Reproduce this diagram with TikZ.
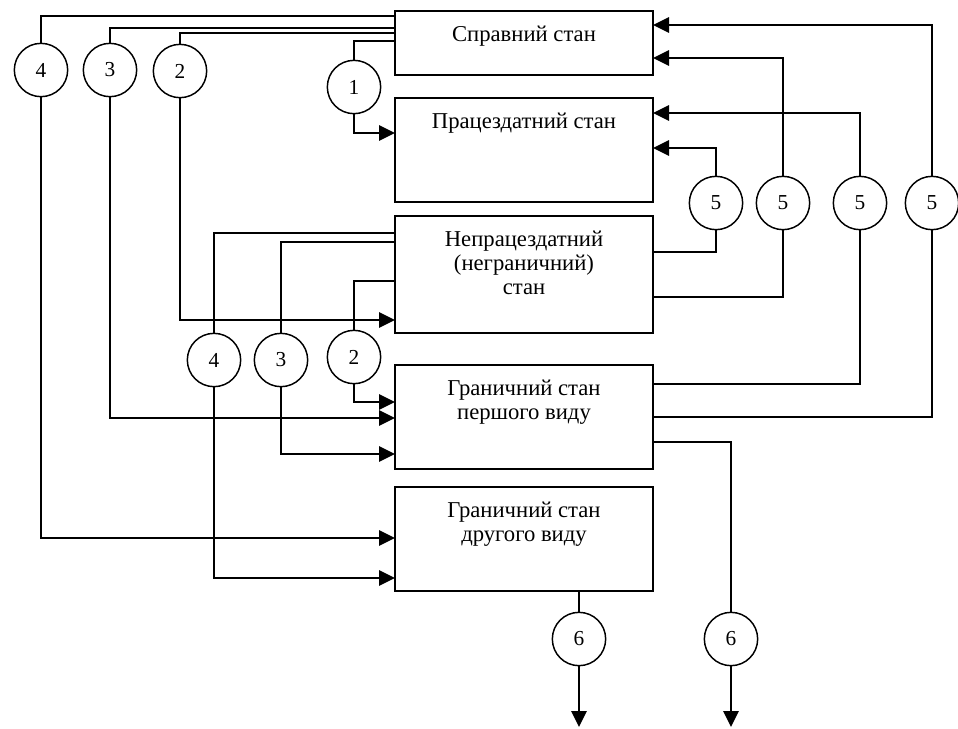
\documentclass[tikz,border=0pt]{standalone}
\usepackage{fontspec}
\setmainfont{Liberation Serif}
\usetikzlibrary{arrows.meta}
\usetikzlibrary{positioning}

\tikzset{
  state/.style={draw, line width=1.1pt, minimum width=193.5pt, outer sep=0pt, inner sep=0pt},
  statetext/.style={anchor=north, align=center, inner sep=0pt, font=\fontsize{17}{18}\selectfont},
  num/.style={draw, circle, line width=1.1pt, minimum size=40pt, inner sep=0pt, font=\fontsize{16}{18}\selectfont},
  link/.style={line width=1.4pt},
  flow/.style={line width=1.4pt, -{Triangle[length=12pt,width=11.5pt]}}
}

\begin{document}
\begin{tikzpicture}[x=0.75pt,y=-0.75pt]
\useasboundingbox (0,0) rectangle (958,729);

% states
\node[state, minimum height=48pt] (s1) at (524,43) {};
\node[state, minimum height=78pt] (s2) at (524,150) {};
\node[state, minimum height=87.75pt] (s3) at (524,274.5) {};
\node[state, minimum height=78pt] (s4) at (524,417) {};
\node[state, minimum height=78pt] (s5) at (524,539) {};
\node[statetext, below=11pt of s1.north] (t1) {Справний стан};
\node[statetext, below=11pt of s2.north] (t2) {Працездатний стан};
\node[statetext, below=11pt of s3.north] (t3) {Непрацездатний\\(неграничний)\\стан};
\node[statetext, below=11pt of s4.north] (t4) {Граничний стан\\першого виду};
\node[statetext, below=11pt of s5.north] (t5) {Граничний стан\\другого виду};

% transition numbers
\node[num] (a4) at (41,70) {4};
\node[num] (a3) at (110,70) {3};
\node[num] (a2) at (180,71) {2};
\node[num] (a1) at (354,87) {1};
\node[num] (b4) at (214,360) {4};
\node[num] (b3) at (281,360) {3};
\node[num] (b2) at (354,357) {2};
\node[num] (r1) at (716,203) {5};
\node[num] (r2) at (783,203) {5};
\node[num] (r3) at (860,203) {5};
\node[num] (r4) at (932,203) {5};
\node[num] (d1) at (579,639) {6};
\node[num] (d2) at (731,639) {6};
\coordinate (e1) at (579,727);
\coordinate (e2) at (731,727);

% from the good state
\draw[link] (s1.west |- 0,16) -| (a4.north);
\draw[flow] (a4.south) |- (s5.west |- 0,538);
\draw[link] (s1.west |- 0,28) -| (a3.north);
\draw[flow] (a3.south) |- (s4.west |- 0,418);
\draw[link] (s1.west |- 0,33) -| (a2.north);
\draw[flow] (a2.south) |- (s3.west |- 0,320);
\draw[link] (s1.west |- 0,41) -| (a1.north);
\draw[flow] (a1.south) |- (s2.west |- 0,133);

% from the inoperable state
\draw[link] (s3.west |- 0,233) -| (b4.north);
\draw[flow] (b4.south) |- (s5.west |- 0,578);
\draw[link] (s3.west |- 0,242) -| (b3.north);
\draw[flow] (b3.south) |- (s4.west |- 0,454);
\draw[link] (s3.west |- 0,281) -| (b2.north);
\draw[flow] (b2.south) |- (s4.west |- 0,402);

% restorations
\draw[link] (s3.east |- 0,252) -| (r1.south);
\draw[flow] (r1.north) |- (s2.east |- 0,148);
\draw[link] (s3.east |- 0,297) -| (r2.south);
\draw[flow] (r2.north) |- (s1.east |- 0,58);
\draw[link] (s4.east |- 0,384) -| (r3.south);
\draw[flow] (r3.north) |- (s2.east |- 0,113);
\draw[link] (s4.east |- 0,417) -| (r4.south);
\draw[flow] (r4.north) |- (s1.east |- 0,25);

% exits
\draw[link] (s5.south -| d1.north) -- (d1.north);
\draw[flow] (d1.south) -- (e1);
\draw[link] (s4.east |- 0,442) -| (d2.north);
\draw[flow] (d2.south) -- (e2);
\end{tikzpicture}
\end{document}
